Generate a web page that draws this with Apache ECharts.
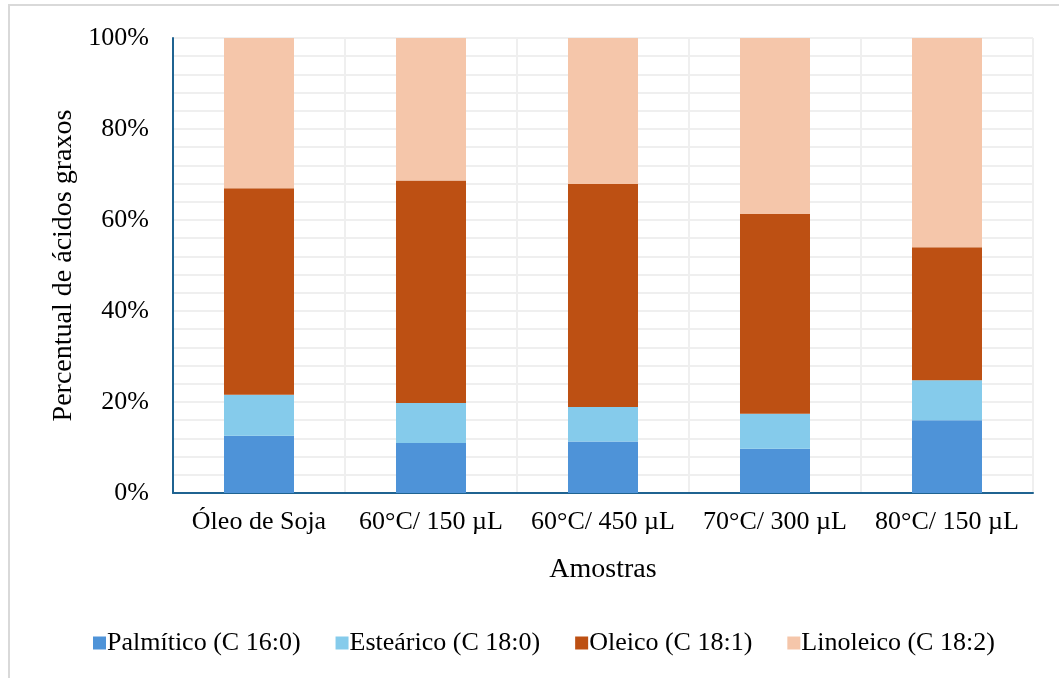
<!DOCTYPE html>
<html>
<head>
<meta charset="utf-8">
<script src="https://cdn.jsdelivr.net/npm/echarts@6/dist/echarts.min.js"></script>
<style>
html,body{margin:0;padding:0;background:#fff;}
#chart{width:1059px;height:678px;}
</style>
</head>
<body>
<div id="chart"></div>
<script>
var categories = ['Óleo de Soja', '60°C/ 150 µL', '60°C/ 450 µL', '70°C/ 300 µL', '80°C/ 150 µL'];
var seriesNames = ['Palmítico (C 16:0)', 'Esteárico (C 18:0)', 'Oleico (C 18:1)', 'Linoleico (C 18:2)'];
var palmitico = [12.6, 11.0, 11.3, 9.7, 16.0];
var estearico = [9.0, 8.8, 7.6, 7.7, 8.8];
var oleico = [45.4, 48.9, 49.0, 43.9, 29.2];
var linoleico = [33.0, 31.3, 32.1, 38.7, 46.0];
var colors = ['#4e93d8', '#85cbeb', '#bd5013', '#f5c6aa'];

var font = 'Liberation Serif, Times New Roman, serif';
var chart = echarts.init(document.getElementById('chart'), null, {renderer: 'canvas'});
var dataSets = [palmitico, estearico, oleico, linoleico];
var series = seriesNames.map(function (n, i) {
  return {
    name: n,
    type: 'bar',
    stack: 'total',
    barWidth: '40.7%',
    data: dataSets[i],
    itemStyle: {color: colors[i]}
  };
});
chart.setOption({
  animation: false,
  textStyle: {fontFamily: font, color: '#000'},
  graphic: [{
    type: 'polyline',
    shape: {points: [[9, 700], [9, 5], [1070, 5]]},
    style: {stroke: '#d9d9d9', lineWidth: 2, fill: null}
  }],
  grid: {left: 173, right: 26, top: 38, bottom: 185, containLabel: false},
  legend: {
    bottom: 17,
    left: 88,
    itemWidth: 13,
    itemHeight: 13,
    itemGap: 35,
    icon: 'rect',
    textStyle: {fontFamily: font, fontSize: 26, color: '#000', padding: [0, 0, 0, -4]},
    data: seriesNames
  },
  xAxis: {
    type: 'category',
    data: categories,
    name: 'Amostras',
    nameLocation: 'middle',
    nameGap: 63,
    nameTextStyle: {fontFamily: font, fontSize: 28, color: '#000'},
    axisLine: {show: true, lineStyle: {color: '#1f6391', width: 2}},
    axisTick: {show: false, interval: 0},
    axisLabel: {fontFamily: font, fontSize: 26, color: '#000', margin: 16, interval: 0, hideOverlap: false},
    splitLine: {show: true, interval: 0, lineStyle: {color: '#efefef', width: 2}}
  },
  yAxis: {
    type: 'value',
    min: 0,
    max: 100,
    interval: 20,
    name: 'Percentual de ácidos graxos',
    nameLocation: 'middle',
    nameGap: 88,
    nameTextStyle: {fontFamily: font, fontSize: 28, color: '#000'},
    axisLine: {show: true, lineStyle: {color: '#1f6391', width: 2}},
    axisTick: {show: false},
    axisLabel: {fontFamily: font, fontSize: 26, color: '#000', margin: 24, formatter: '{value}%'},
    splitLine: {show: true, lineStyle: {color: '#efefef', width: 2}},
    minorTick: {show: false, splitNumber: 5},
    minorSplitLine: {show: true, lineStyle: {color: '#efefef', width: 2}}
  },
  series: series
});
</script>
</body>
</html>
